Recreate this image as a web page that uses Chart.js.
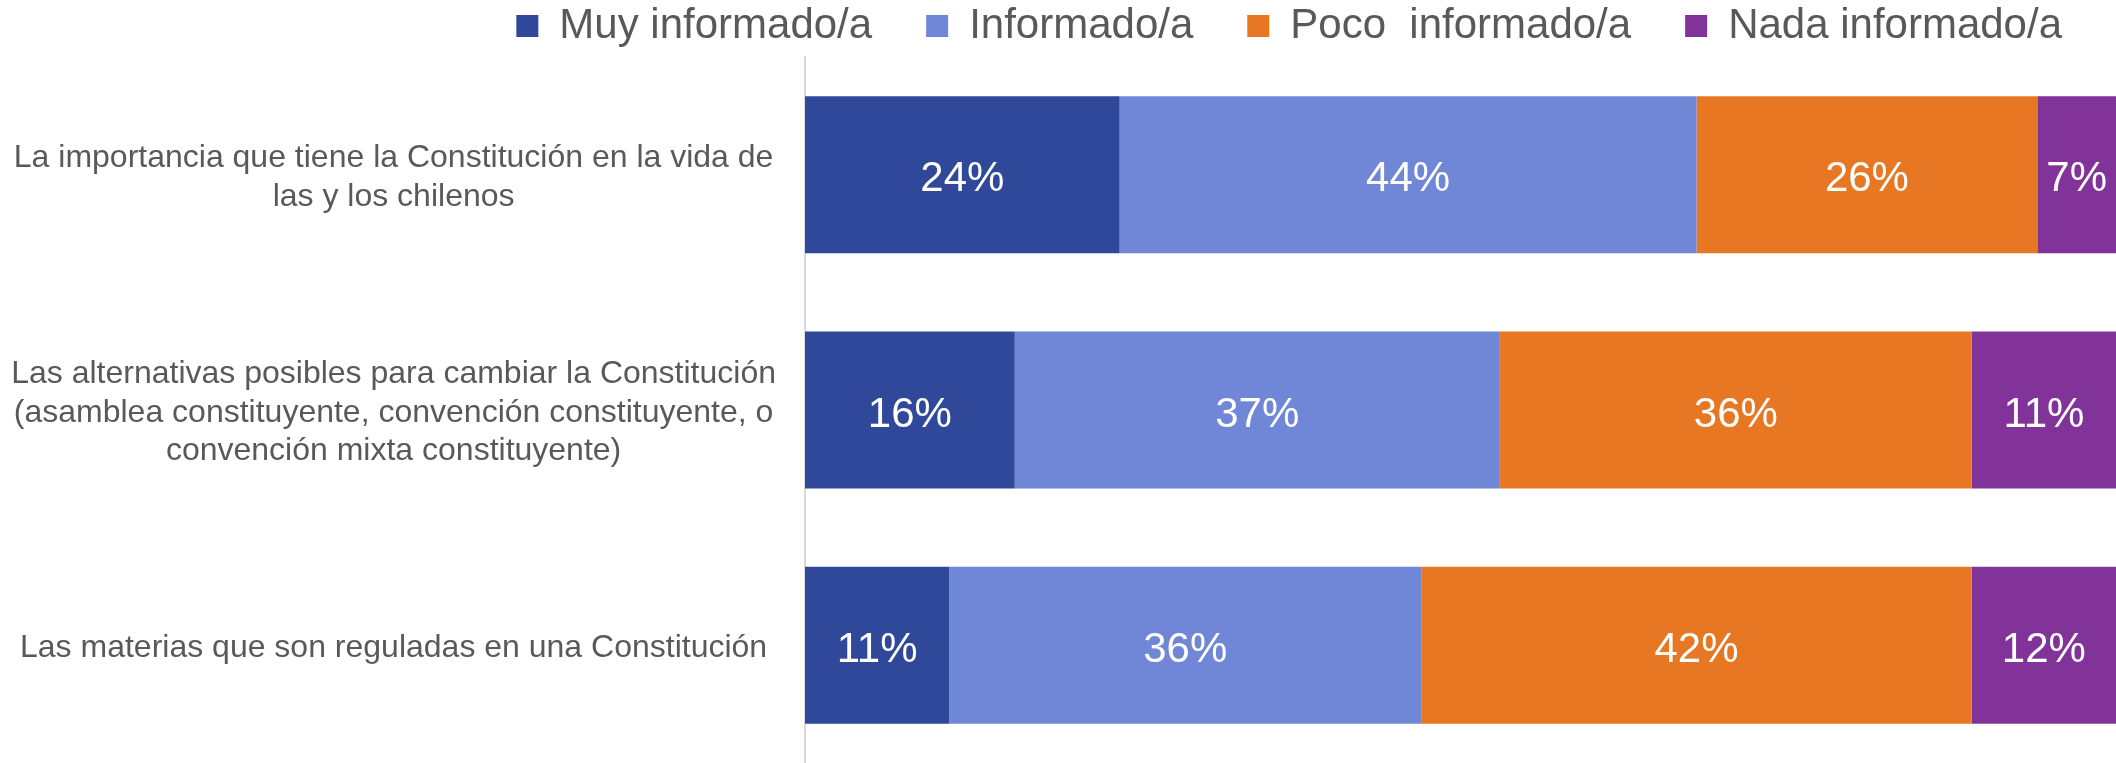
<!DOCTYPE html>
<html lang="es">
<head>
    <meta charset="UTF-8">
    <meta name="viewport" content="width=device-width, initial-scale=1.0">
    <title>Nivel de información sobre la Constitución</title>
    <script src="https://cdn.jsdelivr.net/npm/chart.js"></script>
    <style>
        html, body {
            margin: 0;
            padding: 0;
            background: #ffffff;
        }
        #grafico {
            position: relative;
            width: 2116px;
            height: 763px;
        }
    </style>
</head>
<body>
    <div id="grafico">
        <canvas id="grafico-info"></canvas>
    </div>
    <script>
        // preguntas (eje vertical), una fila por pregunta
        const preguntas = [
            ['La importancia que tiene la Constitución en la vida de', 'las y los chilenos'],
            ['Las alternativas posibles para cambiar la Constitución', '(asamblea constituyente, convención constituyente, o', 'convención mixta constituyente)'],
            'Las materias que son reguladas en una Constitución'
        ];

        const categorias = ['Muy informado/a', 'Informado/a', 'Poco  informado/a', 'Nada informado/a'];

        // porcentajes por categoría, en el mismo orden que las preguntas
        const muyInformado = [24, 16, 11];
        const informado = [44, 37, 36];
        const pocoInformado = [26, 36, 42];
        const nadaInformado = [7, 11, 12];

        const colores = ['#2F4899', '#7086D6', '#E77722', '#823399'];

        const fuente = '"Liberation Sans", Arial, sans-serif';

        // escribe el porcentaje en blanco en el centro de cada segmento
        const etiquetasPlugin = {
            id: 'etiquetas',
            afterDatasetsDraw(chart) {
                const ctx = chart.ctx;
                const area = chart.chartArea;
                ctx.save();
                ctx.font = '42px ' + fuente;
                ctx.fillStyle = '#ffffff';
                ctx.textAlign = 'center';
                ctx.textBaseline = 'middle';
                chart.data.datasets.forEach((ds, i) => {
                    const meta = chart.getDatasetMeta(i);
                    meta.data.forEach((bar, j) => {
                        // solo la parte visible del segmento (algunas filas suman 101%)
                        const izq = Math.max(Math.min(bar.x, bar.base), area.left);
                        const der = Math.min(Math.max(bar.x, bar.base), area.right);
                        ctx.fillText(ds.data[j] + '%', (izq + der) / 2, bar.y + 5);
                    });
                });
                ctx.restore();
            }
        };

        function crearGrafico() {
            const ctx = document.getElementById('grafico-info').getContext('2d');
            const series = [muyInformado, informado, pocoInformado, nadaInformado];

            const config = {
                type: 'bar',
                data: {
                    labels: preguntas,
                    datasets: series.map((valores, i) => ({
                        label: categorias[i],
                        data: valores,
                        backgroundColor: colores[i],
                        borderWidth: 0,
                        barPercentage: 1,
                        categoryPercentage: 0.667
                    }))
                },
                options: {
                    indexAxis: 'y',
                    responsive: true,
                    maintainAspectRatio: false,
                    animation: false,
                    layout: {
                        padding: 0
                    },
                    plugins: {
                        legend: {
                            position: 'top',
                            align: 'end',
                            labels: {
                                boxWidth: 22,
                                boxHeight: 22,
                                padding: 54,
                                color: '#595959',
                                font: { family: fuente, size: 42 }
                            },
                            // título vacío con relleno negativo: deja la leyenda pegada arriba
                            title: {
                                display: true,
                                text: '',
                                padding: { top: -50, bottom: 0 },
                                font: { size: 1, lineHeight: 1 }
                            }
                        },
                        tooltip: { enabled: false }
                    },
                    scales: {
                        x: {
                            stacked: true,
                            display: false,
                            min: 0,
                            max: 100
                        },
                        y: {
                            stacked: true,
                            grid: { display: false, drawTicks: false },
                            border: { display: true, color: '#D9D9D9', width: 2 },
                            ticks: {
                                color: '#595959',
                                padding: 29,
                                labelOffset: 3,
                                crossAlign: 'center',
                                font: { family: fuente, size: 32, lineHeight: 1.2 }
                            },
                            afterFit(scale) {
                                scale.width = 805;
                                scale.paddingTop = 0;
                                scale.paddingBottom = 0;
                            }
                        }
                    }
                },
                plugins: [etiquetasPlugin]
            };
            new Chart(ctx, config);
        }

        window.onload = function() {
            crearGrafico();
        };
    </script>
</body>
</html>
